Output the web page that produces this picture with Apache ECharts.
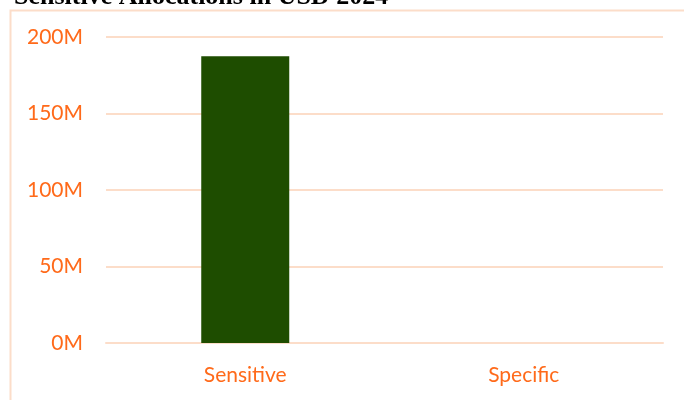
<!DOCTYPE html>
<html>
<head>
<meta charset="utf-8">
<script src="https://cdn.jsdelivr.net/npm/echarts@6/dist/echarts.min.js"></script>
<style>html,body{margin:0;padding:0;background:#fff;}#c{width:684px;height:400px;}</style>
</head>
<body>
<div id="c"></div>
<script>
const title = 'Sensitive Allocations in USD 2024';
const categories = ['Sensitive', 'Specific'];
const values = [187.5e6, 0];
const yTicks = [0, 50e6, 100e6, 150e6, 200e6];

const orange = '#FF6A1A';
const peach = '#FCDDC9';
const chart = echarts.init(document.getElementById('c'), null, {renderer: 'canvas'});
chart.setOption({
  animation: false,
  backgroundColor: '#fff',
  title: {
    text: title, left: 9, top: -21,
    textStyle: {fontFamily: 'Liberation Serif', fontWeight: 'bold', fontSize: 26, color: '#000'}
  },
  graphic: [{
    type: 'rect', left: 8, top: 8, shape: {width: 700, height: 420},
    style: {fill: 'none', stroke: peach, lineWidth: 2}, silent: true
  }],
  grid: {left: 106, right: 21, top: 37, bottom: 57},
  xAxis: {
    type: 'category', data: categories,
    axisLine: {show: true, lineStyle: {color: peach, width: 2}},
    axisTick: {show: false},
    axisLabel: {color: orange, fontFamily: 'Lato', fontSize: 21, margin: 22}
  },
  yAxis: {
    type: 'value', min: yTicks[0], max: yTicks[yTicks.length - 1], interval: 50e6,
    axisLine: {show: false}, axisTick: {show: false},
    splitLine: {lineStyle: {color: peach, width: 2}},
    axisLabel: {color: orange, fontFamily: 'Lato', fontSize: 21, margin: 23,
      formatter: v => (v / 1e6) + 'M'}
  },
  series: [{
    type: 'bar', data: values, barWidth: 88,
    itemStyle: {color: '#1E4D00'}
  }]
});
</script>
</body>
</html>
